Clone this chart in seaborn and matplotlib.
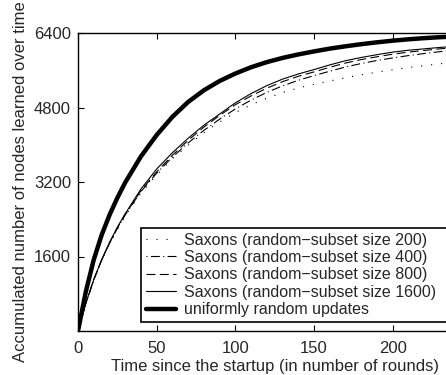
import matplotlib
matplotlib.use("Agg")
import matplotlib.pyplot as plt
import seaborn as sns

# Rounds since startup
rounds = [0, 5, 10, 15, 20, 25, 30, 40, 50, 60, 70, 80, 90, 100, 110, 120,
          130, 140, 150, 160, 170, 180, 190, 200, 210, 220, 230, 240]

# Accumulated number of nodes learned
saxons_200 = [0, 590, 1090, 1510, 1860, 2180, 2470, 2960, 3350, 3700, 3990,
              4260, 4490, 4690, 4860, 5000, 5120, 5220, 5300, 5370, 5440,
              5500, 5560, 5610, 5660, 5700, 5740, 5770]
saxons_400 = [0, 595, 1095, 1520, 1880, 2205, 2495, 2995, 3390, 3735, 4040,
              4310, 4550, 4770, 4960, 5125, 5265, 5385, 5485, 5580, 5670,
              5745, 5810, 5865, 5915, 5960, 6000, 6035]
saxons_800 = [0, 598, 1100, 1525, 1890, 2215, 2505, 3015, 3420, 3775, 4095,
              4380, 4630, 4860, 5050, 5215, 5355, 5470, 5565, 5665, 5755,
              5830, 5890, 5945, 5990, 6025, 6060, 6090]
saxons_1600 = [0, 600, 1105, 1530, 1900, 2230, 2520, 3050, 3480, 3830, 4140,
               4420, 4660, 4900, 5100, 5270, 5410, 5520, 5615, 5715, 5805,
               5875, 5935, 5990, 6030, 6060, 6090, 6115]
uniform = [0, 850, 1530, 2060, 2490, 2860, 3190, 3750, 4210, 4600, 4920,
           5170, 5370, 5530, 5665, 5775, 5865, 5940, 6005, 6065, 6115,
           6160, 6200, 6235, 6265, 6290, 6310, 6325]

labels = ["Saxons (random\u2212subset size 200)",
          "Saxons (random\u2212subset size 400)",
          "Saxons (random\u2212subset size 800)",
          "Saxons (random\u2212subset size 1600)",
          "uniformly random updates"]

sns.set_style("white")
plt.rcParams["font.family"] = ["Liberation Sans", "DejaVu Sans"]

fig = plt.figure(figsize=(4.46, 3.75), dpi=100)
ax = fig.add_axes([78 / 446, 44 / 375, 393.5 / 446, 298 / 375])

series = [
    (saxons_200, 0.8, (1.0, 8.0)),
    (saxons_400, 0.8, (1.0, 3.0, 8.0, 3.0)),
    (saxons_800, 0.8, (8.0, 4.0)),
    (saxons_1600, 0.8, None),
    (uniform, 3.2, None),
]

for (vals, lw, dash), lab in zip(series, labels):
    sns.lineplot(x=rounds, y=vals, ax=ax, color="black", linewidth=lw,
                 label=lab)
    if dash:
        ax.get_lines()[-1].set_dashes(dash)

ax.set_xlim(0, 250)
ax.set_ylim(0, 6400)
ax.set_xticks([0, 50, 100, 150, 200])
ax.set_yticks([1600, 3200, 4800, 6400])

for s in ax.spines.values():
    s.set_color("black")
    s.set_linewidth(1.0)

ax.tick_params(axis="both", which="both", direction="in", length=4,
               width=0.8, color="black", labelsize=12, top=True, right=True,
               bottom=True, left=True)
ax.tick_params(axis="x", pad=7)
ax.tick_params(axis="y", pad=5)

ax.set_xlabel("Time since the startup (in number of rounds)", fontsize=12,
              labelpad=2)
ax.set_ylabel("Accumulated number of nodes learned over time", fontsize=12,
              labelpad=4)

leg = ax.legend(loc="lower left",
                bbox_to_anchor=(141 / 446, 53 / 375, 0.75, 96 / 375),
                bbox_transform=fig.transFigure, mode="expand",
                fontsize=11.5, frameon=True, fancybox=False,
                handlelength=1.9, handletextpad=0.5, labelspacing=0.15,
                borderpad=0.3, borderaxespad=0)
frame = leg.get_frame()
frame.set_edgecolor("black")
frame.set_linewidth(1.2)
frame.set_facecolor("white")
frame.set_alpha(1)

fig.savefig("out.png", dpi=100)
